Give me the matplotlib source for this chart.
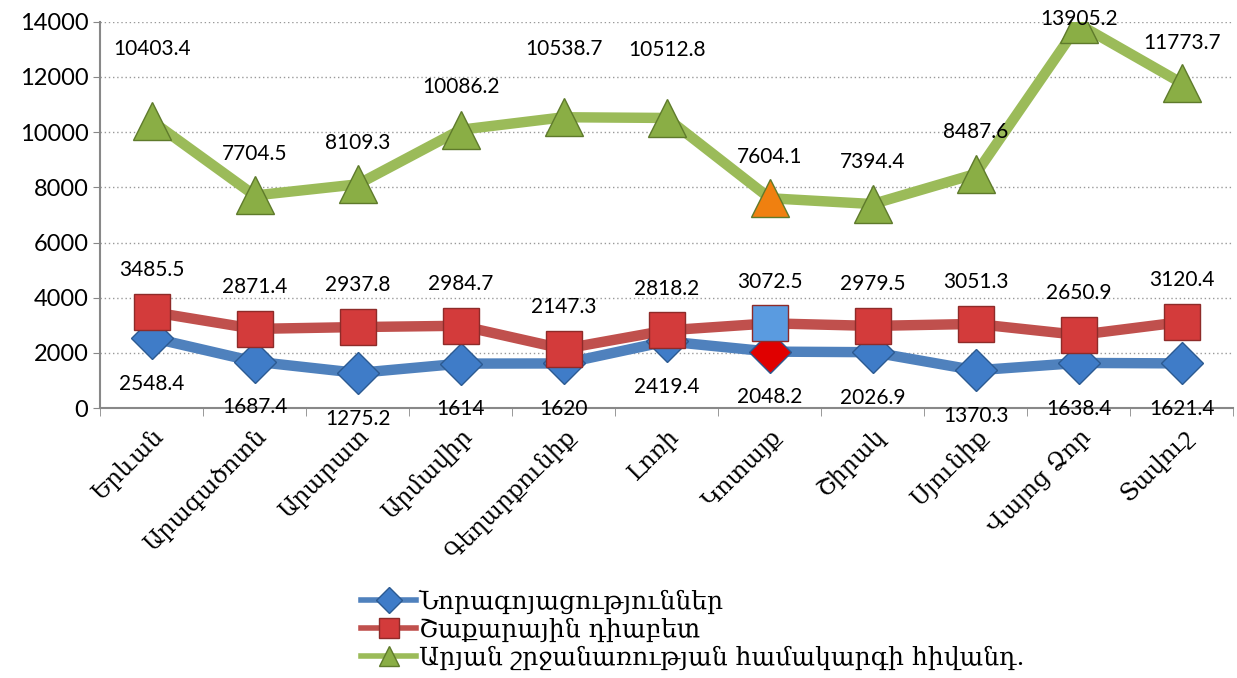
import numpy as np
import matplotlib.pyplot as plt
from matplotlib.lines import Line2D

plt.rcParams['font.family'] = ['Lato', 'DejaVu Serif']

regions = ['Երևան', 'Արագածոտն', 'Արարատ', 'Արմավիր', 'Գեղարքունիք', 'Լոռի',
           'Կոտայք', 'Շիրակ', 'Սյունիք', 'Վայոց Ձոր', 'Տավուշ']
neoplasms = [2548.4, 1687.4, 1275.2, 1614, 1620, 2419.4, 2048.2, 2026.9, 1370.3, 1638.4, 1621.4]
diabetes = [3485.5, 2871.4, 2937.8, 2984.7, 2147.3, 2818.2, 3072.5, 2979.5, 3051.3, 2650.9, 3120.4]
circulatory = [10403.4, 7704.5, 8109.3, 10086.2, 10538.7, 10512.8, 7604.1, 7394.4, 8487.6, 13905.2, 11773.7]
names = ['Նորագոյացություններ', 'Շաքարային դիաբետ', 'Արյան շրջանառության համակարգի հիվանդ.']

# label offsets for the green series (points)
green_off = [52, 30, 30, 31, 49, 49, 30, 30, 30, 4, 29]

x = np.arange(len(regions))
fig = plt.figure(figsize=(12.37, 6.78), dpi=100)
ax = fig.add_axes([0.081, 0.398, 0.916, 0.57])

series = [
    (neoplasms, '#4F81BD', 'D', '#3F7CC8', '#2C5A91', 22, -33),
    (diabetes, '#C0504D', 's', '#D33B3B', '#8E2B29', 26, 30),
    (circulatory, '#9BBB59', '^', '#8AAE45', '#5E7A2B', 28, None),
]
special = {'D': '#E00000', 's': '#5A9BE0', '^': '#F08010'}

for vals, lc, mk, fc, ec, ms, off in series:
    ax.plot(x, vals, color=lc, lw=7.5, solid_capstyle='round', zorder=2)
    fcs = [fc] * len(vals)
    fcs[6] = special[mk]
    for i, v in enumerate(vals):
        ax.plot(x[i], v, marker=mk, ms=ms if mk != 'D' else 21, mfc=fcs[i],
                mec=ec, mew=1, ls='none', zorder=3)
        o = off if off is not None else green_off[i]
        txt = f'{v:g}'
        ax.annotate(txt, (x[i], v), xytext=(0, o), textcoords='offset points',
                    ha='center', va='center', fontsize=15, color='black', zorder=4)

ax.set_xlim(-0.5, len(regions) - 0.5)
ax.set_ylim(0, 14000)
ax.set_yticks(np.arange(0, 14001, 2000))
ax.tick_params(axis='y', labelsize=17, length=5, color='#888888')
ax.yaxis.grid(True, ls=(0, (1, 2)), color='#999999', lw=1)
ax.set_axisbelow(True)

ax.set_xticks(x)
ax.set_xticklabels(regions, rotation=45, ha='right', rotation_mode='anchor',
                   fontsize=17, family=['DejaVu Serif'])
ax.tick_params(axis='x', length=0, pad=12)
ax.set_xticks(np.arange(-0.5, len(regions)), minor=True)
ax.tick_params(axis='x', which='minor', length=6, color='#888888')

for s in ['top', 'right']:
    ax.spines[s].set_visible(False)
for s in ['left', 'bottom']:
    ax.spines[s].set_color('#888888')
    ax.spines[s].set_linewidth(1.5)

handles = [Line2D([], [], color=lc, lw=4, marker=mk, ms=15 if mk != 'D' else 13,
                  mfc=fc, mec=ec) for _, lc, mk, fc, ec, _, _ in series]
fig.legend(handles, names, loc='upper left', bbox_to_anchor=(0.284, 0.145),
           frameon=False, handlelength=2.2, handletextpad=0.1,
           labelspacing=0.15, borderaxespad=0,
           prop={'family': ['DejaVu Serif'], 'size': 18})

fig.savefig('out.png', dpi=100)
